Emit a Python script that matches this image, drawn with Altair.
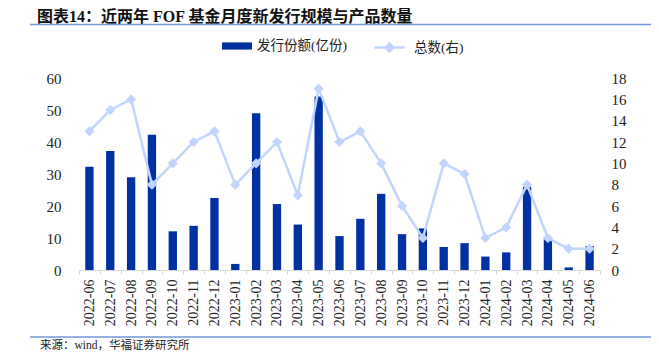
import altair as alt
import pandas as pd

months = ["2022-06", "2022-07", "2022-08", "2022-09", "2022-10", "2022-11", "2022-12",
          "2023-01", "2023-02", "2023-03", "2023-04", "2023-05", "2023-06", "2023-07",
          "2023-08", "2023-09", "2023-10", "2023-11", "2023-12", "2024-01", "2024-02",
          "2024-03", "2024-04", "2024-05", "2024-06"]
issue_shares = [32.3, 37.2, 29.0, 42.3, 12.1, 13.8, 22.5, 1.9, 49.0, 20.6, 14.2, 54.2, 10.6,
                16.0, 23.8, 11.2, 13.0, 7.2, 8.4, 4.2, 5.5, 26.0, 9.6, 0.8, 7.5]
fund_counts = [13, 15, 16, 8, 10, 12, 13, 8, 10, 12, 7, 17, 12, 13, 10, 6, 3, 10, 9, 3, 4, 8, 3, 2, 2]

bar_name = "发行份额(亿份)"
line_name = "总数(右)"
title_text = "图表14：近两年 FOF 基金月度新发行规模与产品数量"
source_text = "来源：wind，华福证券研究所"

df = pd.DataFrame({"month": months, "shares": issue_shares, "count": fund_counts,
                   "bar_s": bar_name, "line_s": line_name})
one = pd.DataFrame({"t": [title_text], "s": [source_text]})

BAR = "#0031a3"
LINE = "#c2d5ff"
SERIF = "Liberation Serif, Noto Sans CJK SC"

x = alt.X("month:N", sort=months, title=None,
          scale=alt.Scale(paddingInner=0, paddingOuter=0),
          axis=alt.Axis(labelAngle=270, labelFont="Liberation Serif", labelFontSize=14,
                        labelColor="#222", tickBand="extent", tickSize=4, tickColor="#d9d9d9",
                        domainColor="#d9d9d9", labelPadding=5, grid=False))

bars = alt.Chart(df).mark_bar(width=alt.RelativeBandSize(0.4)).encode(
    x=x,
    y=alt.Y("shares:Q", title=None, scale=alt.Scale(domain=[0, 60]),
            axis=alt.Axis(values=list(range(0, 61, 10)), domain=False, ticks=False, grid=False,
                          labelFont="Liberation Serif", labelFontSize=15, labelColor="#222",
                          labelPadding=18)),
    fill=alt.Fill("bar_s:N", scale=alt.Scale(domain=[bar_name], range=[BAR]),
                  legend=alt.Legend(title=None, orient="none", legendX=143, legendY=-47,
                                    symbolType="M-1,-0.24H1V0.24H-1Z", symbolSize=900,
                                    symbolStrokeWidth=0, labelOffset=5, padding=0,
                                    labelFont=SERIF, labelFontSize=13.5, labelColor="#222")),
)

line = alt.Chart(df).mark_line(
    strokeWidth=2.5,
    point=alt.OverlayMarkDef(shape="diamond", size=55, filled=True, fill=LINE, opacity=1),
).encode(
    x=x,
    y=alt.Y("count:Q", title=None, scale=alt.Scale(domain=[0, 18]),
            axis=alt.Axis(orient="right", values=list(range(0, 19, 2)), domain=False, ticks=False,
                          grid=False, labelFont="Liberation Serif", labelFontSize=15,
                          labelColor="#222", labelPadding=11)),
    stroke=alt.Stroke("line_s:N", scale=alt.Scale(domain=[line_name], range=[LINE]),
                      legend=alt.Legend(title=None, orient="none", legendX=294, legendY=-47,
                                        symbolType="M-1,0H1M0,-0.27L0.27,0L0,0.27L-0.27,0Z",
                                        symbolSize=900, symbolStrokeWidth=2.5,
                                        symbolFillColor=LINE, labelOffset=8, padding=0,
                                        labelFont=SERIF, labelFontSize=13.5, labelColor="#222")),
)

title = alt.Chart(one).mark_text(align="left", baseline="middle", fontSize=16,
                                 fontWeight="bold", font=SERIF, color="#111").encode(
    text="t:N", x=alt.value(-42), y=alt.value(-61.5))
title_rule = alt.Chart(one).mark_rule(color="#6f98d8", strokeWidth=1.3).encode(
    x=alt.value(-49), x2=alt.value(580), y=alt.value(-53.5))
source_rule = alt.Chart(one).mark_rule(color="#6f98d8", strokeWidth=1.3).encode(
    x=alt.value(-49), x2=alt.value(580), y=alt.value(259))
source = alt.Chart(one).mark_text(align="left", baseline="middle", fontSize=11.5,
                                  font=SERIF, color="#222").encode(
    text="s:N", x=alt.value(-39), y=alt.value(267.5))

main = alt.layer(bars, line).resolve_scale(y="independent", fill="independent", stroke="independent")

chart = alt.layer(main, title, title_rule, source_rule, source).properties(
    width=521, height=192,
    autosize=alt.AutoSizeParams(type="none"),
    padding={"left": 71, "top": 70, "right": 51, "bottom": 82},
).configure_view(stroke=None)

chart.save("out.html", embed_options={"renderer": "svg", "actions": False})
